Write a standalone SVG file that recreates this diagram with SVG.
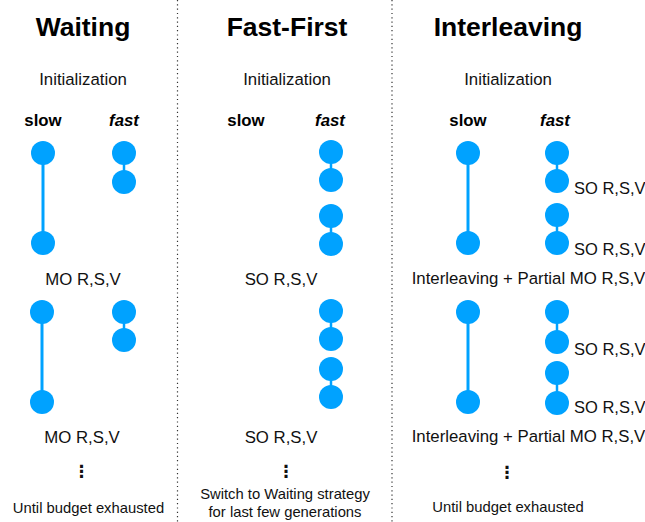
<svg xmlns="http://www.w3.org/2000/svg" width="645" height="522" viewBox="0 0 645 522">
<style>
text{font-family:"Liberation Sans",Arial,Helvetica,sans-serif;fill:#111}
.title{font-size:26.5px;font-weight:bold;text-anchor:middle;fill:#000}
.lbl{font-size:16.8px;text-anchor:middle}
.lblL{font-size:16.5px;text-anchor:start}
.col{font-size:16.8px;font-weight:bold;text-anchor:middle;fill:#000}
.it{font-style:italic}
.small{font-size:14.8px;text-anchor:middle}
.dots{font-family:"DejaVu Sans",sans-serif;font-size:17px;font-weight:bold;text-anchor:middle;fill:#111}
.n{fill:#00a2ff}
.slow{stroke:#00a2ff;stroke-width:3}
.fast{stroke:#00a2ff;stroke-width:2.5}
.div{stroke:#333;stroke-width:1.2;stroke-dasharray:1.2 3.1}
</style>
<g id="dividers">
<line class="div" x1="177.5" y1="0" x2="177.5" y2="522"/>
<line class="div" x1="392" y1="0" x2="392" y2="522"/>
</g>
<g id="connectors">
<line class="slow" x1="43" y1="153" x2="43" y2="243"/>
<line class="fast" x1="124" y1="153" x2="124" y2="182"/>
<line class="slow" x1="42" y1="312" x2="42" y2="402"/>
<line class="fast" x1="124" y1="312" x2="124" y2="340"/>
<line class="fast" x1="331" y1="152" x2="331" y2="180"/>
<line class="fast" x1="331" y1="216" x2="331" y2="244"/>
<line class="fast" x1="331" y1="311" x2="331" y2="339"/>
<line class="fast" x1="331" y1="369" x2="331" y2="397"/>
<line class="slow" x1="468" y1="153" x2="468" y2="243"/>
<line class="fast" x1="557" y1="153" x2="557" y2="181"/>
<line class="fast" x1="557" y1="215" x2="557" y2="243"/>
<line class="slow" x1="468" y1="312" x2="468" y2="402"/>
<line class="fast" x1="557" y1="312" x2="557" y2="342"/>
<line class="fast" x1="557" y1="373" x2="557" y2="403"/>
</g>
<g id="waiting">
<text class="title" x="83" y="36">Waiting</text>
<text class="lbl" x="83" y="85">Initialization</text>
<text class="col" x="43" y="126">slow</text>
<text class="col it" x="124" y="126">fast</text>
<circle class="n" cx="43" cy="153" r="12"/>
<circle class="n" cx="43" cy="243" r="12"/>
<circle class="n" cx="124" cy="153" r="12"/>
<circle class="n" cx="124" cy="182" r="12"/>
<text class="lbl" x="83" y="285">MO R,S,V</text>
<circle class="n" cx="42" cy="312" r="12"/>
<circle class="n" cx="42" cy="402" r="12"/>
<circle class="n" cx="124" cy="312" r="12"/>
<circle class="n" cx="124" cy="340" r="12"/>
<text class="lbl" x="82" y="443">MO R,S,V</text>
<text class="dots" x="81.5" y="477">⋮</text>
<text class="small" x="88.5" y="513">Until budget exhausted</text>
</g>
<g id="fast-first">
<text class="title" x="287" y="36">Fast-First</text>
<text class="lbl" x="287" y="85">Initialization</text>
<text class="col" x="246" y="126">slow</text>
<text class="col it" x="330" y="126">fast</text>
<circle class="n" cx="331" cy="152" r="12"/>
<circle class="n" cx="331" cy="180" r="12"/>
<circle class="n" cx="331" cy="216" r="12"/>
<circle class="n" cx="331" cy="244" r="12"/>
<text class="lbl" x="281" y="285">SO R,S,V</text>
<circle class="n" cx="331" cy="311" r="12"/>
<circle class="n" cx="331" cy="339" r="12"/>
<circle class="n" cx="331" cy="369" r="12"/>
<circle class="n" cx="331" cy="397" r="12"/>
<text class="lbl" x="281" y="443">SO R,S,V</text>
<text class="dots" x="286" y="477">⋮</text>
<text class="small" x="285" y="499">Switch to Waiting strategy</text>
<text class="small" x="285" y="517">for last few generations</text>
</g>
<g id="interleaving">
<text class="title" x="508" y="36">Interleaving</text>
<text class="lbl" x="508" y="85">Initialization</text>
<text class="col" x="468" y="126">slow</text>
<text class="col it" x="555" y="126">fast</text>
<circle class="n" cx="468" cy="153" r="12"/>
<circle class="n" cx="468" cy="243" r="12"/>
<circle class="n" cx="557" cy="153" r="12"/>
<circle class="n" cx="557" cy="181" r="12"/>
<circle class="n" cx="557" cy="215" r="12"/>
<circle class="n" cx="557" cy="243" r="12"/>
<text class="lblL" x="574" y="194">SO R,S,V</text>
<text class="lblL" x="574" y="255">SO R,S,V</text>
<text class="lbl" x="528.5" y="284">Interleaving + Partial MO R,S,V</text>
<circle class="n" cx="468" cy="312" r="12"/>
<circle class="n" cx="468" cy="402" r="12"/>
<circle class="n" cx="557" cy="312" r="12"/>
<circle class="n" cx="557" cy="342" r="12"/>
<circle class="n" cx="557" cy="373" r="12"/>
<circle class="n" cx="557" cy="403" r="12"/>
<text class="lblL" x="574" y="355">SO R,S,V</text>
<text class="lblL" x="574" y="413">SO R,S,V</text>
<text class="lbl" x="528.5" y="442">Interleaving + Partial MO R,S,V</text>
<text class="dots" x="507" y="478">⋮</text>
<text class="small" x="508" y="512">Until budget exhausted</text>
</g>
</svg>
